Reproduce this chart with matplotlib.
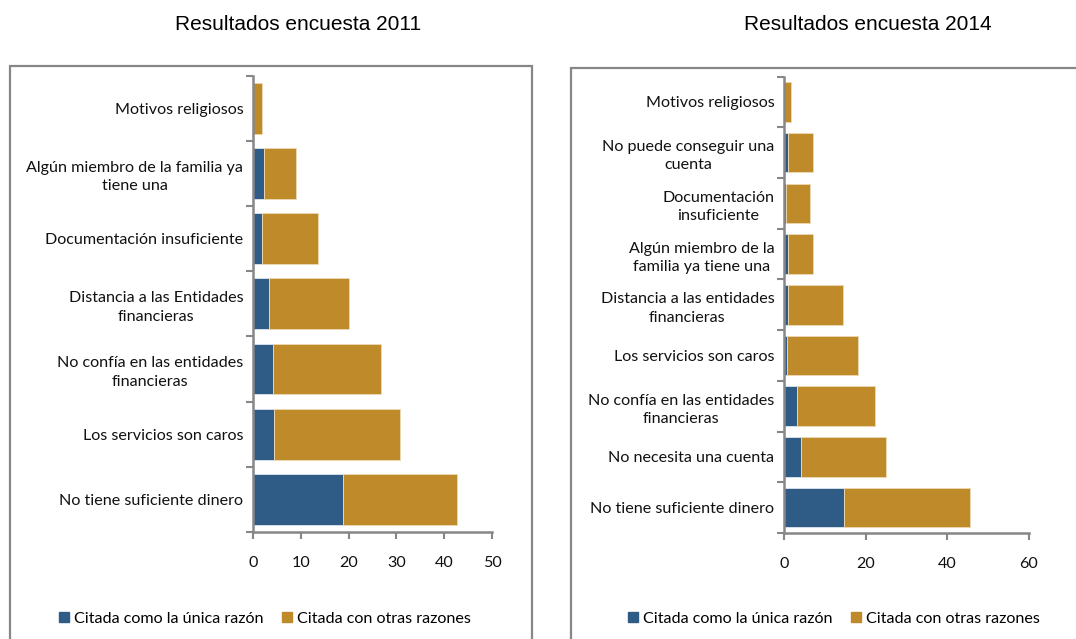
import matplotlib.pyplot as plt
from matplotlib.patches import Rectangle, Patch

# encuesta 2011 (de abajo hacia arriba)
cat_2011 = ["No tiene suficiente dinero", "Los servicios son caros",
            "No confía en las entidades\nfinancieras",
            "Distancia a las Entidades\nfinancieras",
            "Documentación insuficiente",
            "Algún miembro de la familia ya\ntiene una",
            "Motivos religiosos"]
unica_2011 = [18.8, 4.4, 4.1, 3.3, 1.8, 2.4, 0.0]
otras_2011 = [23.8, 26.4, 22.7, 16.8, 11.9, 6.7, 1.9]

# encuesta 2014 (de abajo hacia arriba)
cat_2014 = ["No tiene suficiente dinero", "No necesita una cuenta",
            "No confía en las entidades\nfinancieras",
            "Los servicios son caros",
            "Distancia a las entidades\nfinancieras",
            "Algún miembro de la\nfamilia ya tiene una",
            "Documentación\ninsuficiente",
            "No puede conseguir una\ncuenta",
            "Motivos religiosos"]
unica_2014 = [14.7, 4.2, 3.1, 0.7, 1.0, 1.0, 0.4, 1.0, 0.0]
otras_2014 = [30.8, 20.7, 19.2, 17.5, 13.5, 6.0, 6.0, 6.0, 1.6]

series = ["Citada como la única razón", "Citada con otras razones"]
xticks_2011 = [0, 10, 20, 30, 40, 50]
xticks_2014 = [0, 20, 40, 60]

AZUL = "#2E5C87"
OCRE = "#BF8A2A"
GRIS = "#878787"
FONT = "Lato"
FS = 11.6

W, H = 1076, 639
fig = plt.figure(figsize=(W / 100, H / 100), dpi=100)


def px_axes(x0, y0, x1, y1):
    return fig.add_axes([x0 / W, 1 - y1 / H, (x1 - x0) / W, (y1 - y0) / H])


def draw_panel(ax, cats, unica, otras, xticks):
    n = len(cats)
    pos = list(range(n))
    ax.barh(pos, unica, height=0.78, color=AZUL, edgecolor="#dfe6ee", linewidth=0.6)
    ax.barh(pos, otras, left=unica, height=0.78, color=OCRE, edgecolor="#ecd9b4", linewidth=0.6)
    ax.set_ylim(-0.5, n - 0.5)
    ax.set_xlim(xticks[0], xticks[-1])
    ax.set_yticks(pos)
    ax.set_yticklabels(cats, fontsize=FS, family=FONT, multialignment="center",
                       linespacing=1.4, color="#111111")
    ax.set_yticks([i - 0.5 for i in range(n + 1)], minor=True)
    ax.tick_params(axis="y", which="major", length=0, pad=7)
    ax.tick_params(axis="y", which="minor", length=5, width=1.5, color=GRIS)
    ax.set_xticks(xticks)
    ax.set_xticklabels([str(t) for t in xticks], fontsize=FS, family=FONT, color="#111111")
    ax.tick_params(axis="x", length=5, width=1.5, color=GRIS, pad=12)
    for s in ["top", "right"]:
        ax.spines[s].set_visible(False)
    for s in ["left", "bottom"]:
        ax.spines[s].set_color(GRIS)
        ax.spines[s].set_linewidth(1.8)


ax1 = px_axes(253, 75.5, 492, 532)
draw_panel(ax1, cat_2011, unica_2011, otras_2011, xticks_2011)
ax2 = px_axes(784, 76.5, 1028.7, 533)
draw_panel(ax2, cat_2014, unica_2014, otras_2014, xticks_2014)

# marcos de cada gráfico
for x0, y0, x1 in [(10, 66, 532), (571, 68, 1090)]:
    fig.patches.append(Rectangle((x0 / W, -0.05), (x1 - x0) / W, 1 - y0 / H + 0.05,
                                 transform=fig.transFigure, fill=False,
                                 edgecolor=GRIS, linewidth=1.6))

fig.text(298.5 / W, 1 - 25 / H, "Resultados encuesta 2011", ha="center", va="center",
         fontsize=15, family="Liberation Sans")
fig.text(867.5 / W, 1 - 25 / H, "Resultados encuesta 2014", ha="center", va="center",
         fontsize=15, family="Liberation Sans")

handles = [Patch(color=AZUL), Patch(color=OCRE)]
for cx in [265, 834]:
    fig.legend(handles, series, loc="center", bbox_to_anchor=(cx / W, 1 - 619 / H),
               ncol=2, frameon=False, handlelength=0.6, handleheight=0.6,
               handletextpad=0.3, columnspacing=1.2,
               prop={"family": FONT, "size": FS})

fig.savefig("out.png", dpi=100)
